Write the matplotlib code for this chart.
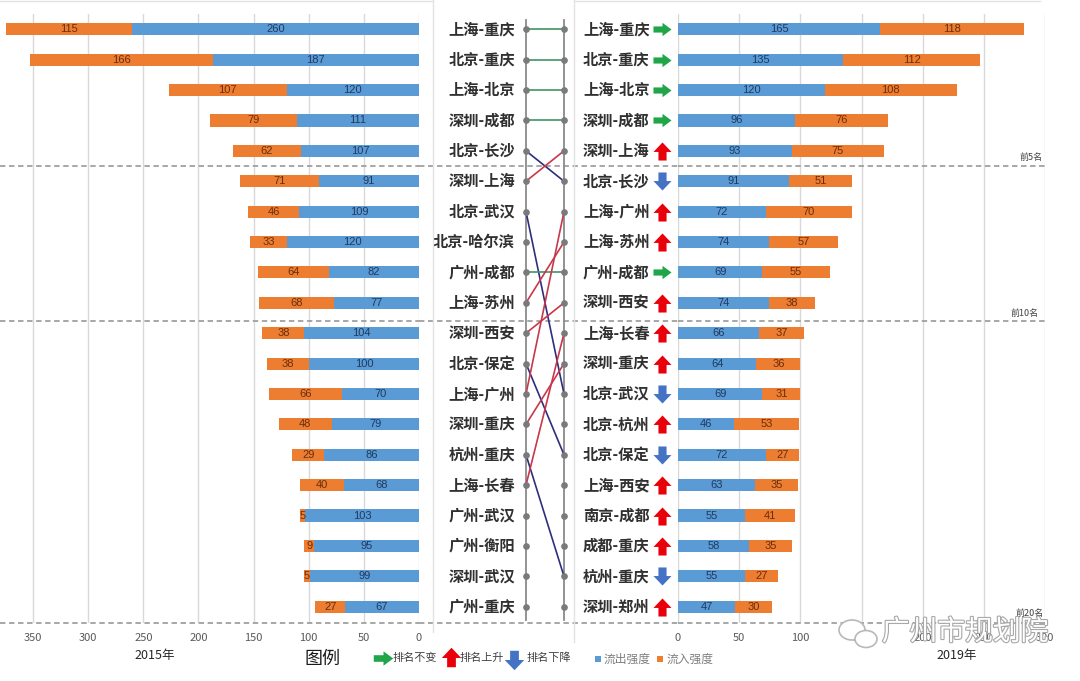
import numpy as np
import matplotlib
matplotlib.use("Agg")
import matplotlib.pyplot as plt
import matplotlib.patheffects as pe
from matplotlib.path import Path
from matplotlib.patches import Ellipse

plt.rcParams['font.family'] = ['Noto Sans CJK SC', 'DejaVu Sans']

# 2015 ranking (left side)
pairs_2015 = ['上海-重庆', '北京-重庆', '上海-北京', '深圳-成都', '北京-长沙',
              '深圳-上海', '北京-武汉', '北京-哈尔滨', '广州-成都', '上海-苏州',
              '深圳-西安', '北京-保定', '上海-广州', '深圳-重庆', '杭州-重庆',
              '上海-长春', '广州-武汉', '广州-衡阳', '深圳-武汉', '广州-重庆']
out_2015 = [260, 187, 120, 111, 107, 91, 109, 120, 82, 77,
            104, 100, 70, 79, 86, 68, 103, 95, 99, 67]
in_2015 = [115, 166, 107, 79, 62, 71, 46, 33, 64, 68,
           38, 38, 66, 48, 29, 40, 5, 9, 5, 27]

# 2019 ranking (right side)
pairs_2019 = ['上海-重庆', '北京-重庆', '上海-北京', '深圳-成都', '深圳-上海',
              '北京-长沙', '上海-广州', '上海-苏州', '广州-成都', '深圳-西安',
              '上海-长春', '深圳-重庆', '北京-武汉', '北京-杭州', '北京-保定',
              '上海-西安', '南京-成都', '成都-重庆', '杭州-重庆', '深圳-郑州']
out_2019 = [165, 135, 120, 96, 93, 91, 72, 74, 69, 74,
            66, 64, 69, 46, 72, 63, 55, 58, 55, 47]
in_2019 = [118, 112, 108, 76, 75, 51, 70, 57, 55, 38,
           37, 36, 31, 53, 27, 35, 41, 35, 27, 30]
trend_2019 = ['same', 'same', 'same', 'same', 'up', 'down', 'up', 'up', 'same', 'up',
              'up', 'up', 'down', 'up', 'down', 'up', 'up', 'up', 'down', 'up']

ticks_2015 = [0, 50, 100, 150, 200, 250, 300, 350]
ticks_2019 = [0, 50, 100, 150, 200, 250, 300]
group_breaks = [5.5, 10.6]
group_names = ['前5名', '前10名', '前20名']
legend_names = ['排名不变', '排名上升', '排名下降', '流出强度', '流入强度']

BLUE = '#5B9BD5'
ORANGE = '#ED7D31'
BLUE_TXT = '#1F3B60'
ORANGE_TXT = '#6B2E0C'
GRID = '#D9D9D9'
DASH = '#A0A0A0'
ARROW_COL = {'same': '#21A549', 'up': '#E8000B', 'down': '#4472C4'}
LINE_COL = {'same': '#3F9563', 'up': '#C8384A', 'down': '#2C2F7C'}

# arrow marker shapes
right_arrow = Path([(-1, -0.34), (0.0, -0.34), (0.0, -0.74), (1, 0),
                    (0.0, 0.74), (0.0, 0.34), (-1, 0.34), (-1, -0.34)])
up_arrow = Path([(-0.45, -1), (0.45, -1), (0.45, -0.05), (1, -0.05), (0, 1),
                 (-1, -0.05), (-0.45, -0.05), (-0.45, -1)])
down_arrow = Path([(-0.45, 1), (0.45, 1), (0.45, 0.05), (1, 0.05), (0, -1),
                   (-1, 0.05), (-0.45, 0.05), (-0.45, 1)])
ARROW_SHAPE = {'same': right_arrow, 'up': up_arrow, 'down': down_arrow}

W, H = 1080, 681
fig = plt.figure(figsize=(W / 100, H / 100), dpi=100)
fig.patch.set_facecolor('white')


def box(x0, x1, y0=14, y1=623):
    return [x0 / W, 1 - y1 / H, (x1 - x0) / W, (y1 - y0) / H]


ranks = np.arange(1, 21)
ylim = (20.536, 0.497)

ax_l = fig.add_axes(box(0, 419))
ax_m = fig.add_axes(box(419, 678))
ax_r = fig.add_axes(box(678, 1045))


def draw_bars(ax, outs, ins, ticks, xlim):
    ax.barh(ranks, outs, height=0.4, color=BLUE, zorder=2)
    ax.barh(ranks, ins, left=outs, height=0.4, color=ORANGE, zorder=2)
    for r, o, i in zip(ranks, outs, ins):
        ax.text(o / 2, r, str(o), ha='center', va='center', fontsize=8,
                color=BLUE_TXT, family='Liberation Sans', zorder=3)
        ax.text(o + i / 2, r, str(i), ha='center', va='center', fontsize=8,
                color=ORANGE_TXT, family='Liberation Sans', zorder=3)
    ax.set_xlim(*xlim)
    ax.set_ylim(*ylim)
    ax.set_xticks(ticks)
    ax.set_yticks([])
    ax.grid(axis='x', color=GRID, lw=1)
    ax.set_axisbelow(True)
    for s in ax.spines.values():
        s.set_visible(False)
    ax.tick_params(axis='x', length=0, labelsize=8, labelcolor='#595959', pad=7)
    ax.patch.set_alpha(0)


draw_bars(ax_l, out_2015, in_2015, ticks_2015, (380, 0))
draw_bars(ax_r, out_2019, in_2019, ticks_2019, (0, 300))

# middle slope panel (x in pixel-like units)
LEFT_LABEL_X, LEFT_COL, RIGHT_COL, RIGHT_LABEL_X, ARROW_X = 515, 526, 564, 583, 662
ax_m.set_xlim(419, 678)
ax_m.set_ylim(*ylim)
ax_m.axis('off')

for col in (LEFT_COL, RIGHT_COL):
    ax_m.plot([col, col], [0.69, 20.44], color='#8A8A8A', lw=1.3, zorder=2)
    ax_m.plot([col] * 20, ranks, 'o', color='#7A7A7A', ms=3.8, zorder=4)

for i, p in enumerate(pairs_2015):
    if p in pairs_2019:
        j = pairs_2019.index(p)
        t = 'same' if i == j else ('up' if j < i else 'down')
        ax_m.plot([LEFT_COL, RIGHT_COL], [ranks[i], ranks[j]], color=LINE_COL[t],
                  lw=1.2, zorder=3)

for r, p in zip(ranks, pairs_2015):
    ax_m.text(LEFT_LABEL_X, r, p, ha='right', va='center', fontsize=11,
              fontweight='bold', color='#303030')
for r, p, t in zip(ranks, pairs_2019, trend_2019):
    ax_m.text(RIGHT_LABEL_X, r, p, ha='left', va='center', fontsize=11,
              fontweight='bold', color='#303030')
    ax_m.plot(ARROW_X, r, marker=ARROW_SHAPE[t], ms=13, color=ARROW_COL[t],
              mew=0, zorder=4)

# dashed group separators and bottom axis line
for ax in (ax_l, ax_m, ax_r):
    for yb in group_breaks + [20.52]:
        ax.axhline(yb, color=DASH, lw=1.3, ls=(0, (3, 2)), clip_on=False, zorder=1)

# overlay in figure pixel coordinates for annotations and legend
ax_o = fig.add_axes([0, 0, 1, 1])
ax_o.set_xlim(0, W)
ax_o.set_ylim(H, 0)
ax_o.axis('off')
ax_o.patch.set_alpha(0)

# faint chart borders
border = '#E3E3E3'
ax_o.plot([0, 433], [1, 1], color=border, lw=1)
ax_o.plot([574, 1040], [1, 1], color=border, lw=1)
ax_o.plot([433, 433], [0, 632], color=border, lw=1)
ax_o.plot([574, 574], [0, 642], color=border, lw=1)

ax_o.text(155, 656, '2015年', ha='center', va='center', fontsize=9, color='#262626')
ax_o.text(957, 656, '2019年', ha='center', va='center', fontsize=9, color='#262626')
for name, (gx, gy) in zip(group_names, [(1031, 157), (1025, 313), (1030, 613)]):
    ax_o.text(gx, gy, name, ha='center', va='center', fontsize=6.5, color='#404040')

# legend
ax_o.text(322, 659, '图例', ha='center', va='center', fontsize=13, color='#1A1A1A')
leg_items = [('same', 383, 658), ('up', 451, 657), ('down', 514, 660)]
leg_text_x = [393, 460, 527]
for (t, lx, ly), tx, name in zip(leg_items, leg_text_x, legend_names[:3]):
    ax_o.plot(lx, ly, marker=ARROW_SHAPE[t], ms=14, color=ARROW_COL[t], mew=0)
    ax_o.text(tx, 658, name, ha='left', va='center', fontsize=8, color='#404040')
for col, sx, tx, name in zip([BLUE, ORANGE], [598, 660], [604, 667], legend_names[3:]):
    ax_o.plot(sx, 659, 's', ms=4.5, color=col, mew=0)
    ax_o.text(tx, 659, name, ha='left', va='center', fontsize=8.5, color='#7F7F7F')

# watermark
for cx, cy, w, h in [(852, 630, 26, 20), (866, 639, 22, 17)]:
    ax_o.add_patch(Ellipse((cx, cy), w, h, facecolor='white', edgecolor='#B8B8B8',
                           lw=1.2, zorder=5))
ax_o.text(965, 632, '广州市规划院', ha='center', va='center', fontsize=20,
          color='white', zorder=6,
          path_effects=[pe.withStroke(linewidth=1.6, foreground='#A8A8A8')])

fig.savefig('out.png', dpi=100, facecolor='white')
